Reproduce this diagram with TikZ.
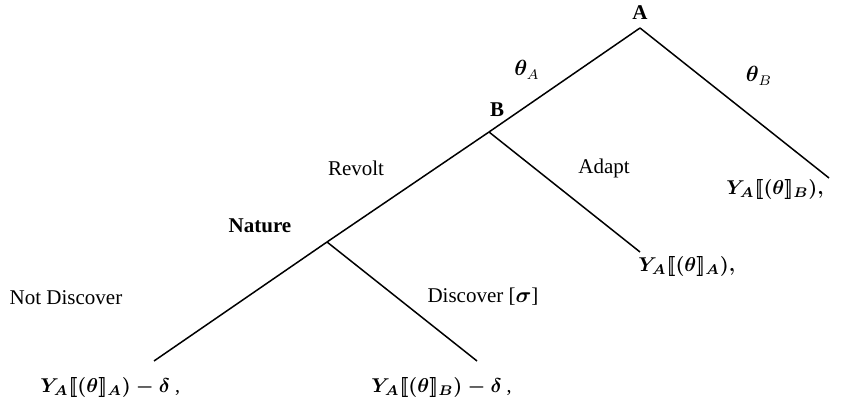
\documentclass[tikz,border=0pt]{standalone}
\usepackage{amsmath,bm}
\usepackage{fontspec}
\setmainfont{Liberation Serif}
\usetikzlibrary{positioning}
\tikzset{
  branch/.style={draw=black,line width=0.75pt},
  lbl/.style={font=\fontsize{10.5}{12}\selectfont,inner sep=1pt},
  player/.style={font=\fontsize{10.5}{12}\selectfont\bfseries,inner sep=1pt},
  pay/.style={font=\fontsize{10}{12}\selectfont\boldmath,inner sep=1pt,anchor=west}
}
\newcommand{\payA}{Y_{A}[\![(\bm{\theta}]\!]_{A})}
\newcommand{\payB}{Y_{A}[\![(\bm{\theta}]\!]_{B})}
\begin{document}
\begin{tikzpicture}[x=0.5pt,y=-0.5pt]
\useasboundingbox (0,0) rectangle (841,410);
% decision nodes
\coordinate (nA) at (640,28);
\coordinate (nB) at (489,132);
\coordinate (nN) at (327,242);
% end points
\coordinate (eB) at (829,178);
\coordinate (eAd) at (640,252);
\coordinate (eND) at (154,361);
\coordinate (eD) at (477,361);
% branches
\draw[branch] (nA)--(nB);
\draw[branch] (nA)--(eB);
\draw[branch] (nB)--(nN);
\draw[branch] (nB)--(eAd);
\draw[branch] (nN)--(eND);
\draw[branch] (nN)--(eD);
% players
\node[player] (labA) at (640,13) {A};
\node[player] (labB) at (497,110) {B};
\node[player] (labN) at (260,226) {Nature};
% actions
\node[lbl] (thA) at (527,70) {$\bm{\theta}_{A}$};
\node[lbl] (thB) at (759,76) {$\bm{\theta}_{B}$};
\node[lbl] (rev) at (356,168) {Revolt};
\node[lbl] (adp) at (604,168) {Adapt};
\node[lbl] (nd) at (66,298) {Not Discover};
\node[lbl] (dis) at (483,297) {Discover [$\bm{\sigma}$]};
% payoffs
\node[pay] (pB) at (724,190) {$\payB,$};
\node[pay] (pAd) at (636,267) {$\payA,$};
\node[pay] (pND) at (38,388) {$\payA-\delta$\ ,};
\node[pay] (pD) at (369,388) {$\payB-\delta$\ ,};
\end{tikzpicture}
\end{document}
